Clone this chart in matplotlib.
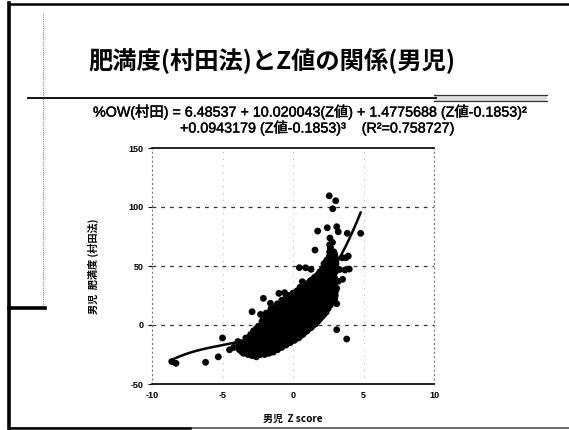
import matplotlib
matplotlib.use("Agg")
import matplotlib.pyplot as plt
import matplotlib.patheffects as pe
import numpy as np

# ---------------- data ----------------
title = "肥満度(村田法)とZ値の関係(男児)"
eq_line1 = "%OW(村田) = 6.48537 + 10.020043(Z値) + 1.4775688 (Z値-0.1853)²"
eq_line2 = "+0.0943179 (Z値-0.1853)³    (R²=0.758727)"
xlabel = "男児  Z score"
ylabel = "男児  肥満度 (村田法)"

x_ticks = [-10, -5, 0, 5, 10]
y_ticks = [-50, 0, 50, 100, 150]

# regression coefficients printed on the slide
fit_coef = [6.48537, 10.020043, 1.4775688, 0.0943179]
fit_center = 0.1853
fit_range = [-8.7, 4.8]

# dense cloud of points (Z score, %OW)
cloud_z = [-3.8, -3.7, -3.9, -3.6,
           -3.5, -3.4, -3.5, -3.3,
           -3.2, -3.1, -3.2, -3.1, -3.0,
           -2.9, -2.8, -2.9, -2.8, -2.9, -2.7,
           -2.6, -2.5, -2.6, -2.5, -2.6, -2.5, -2.6,
           -2.3, -2.2, -2.3, -2.2, -2.3, -2.2, -2.3, -2.2,
           -2.0, -1.9, -2.0, -1.9, -2.0, -1.9, -2.0, -1.9, -2.0,
           -1.7, -1.6, -1.7, -1.6, -1.7, -1.6, -1.7, -1.6, -1.7, -1.6,
           -1.4, -1.3, -1.4, -1.3, -1.4, -1.3, -1.4, -1.3, -1.4, -1.3,
           -1.1, -1.0, -1.1, -1.0, -1.1, -1.0, -1.1, -1.0, -1.1, -1.0, -1.1,
           -0.8, -0.7, -0.8, -0.7, -0.8, -0.7, -0.8, -0.7, -0.8, -0.7, -0.8,
           -0.5, -0.4, -0.5, -0.4, -0.5, -0.4, -0.5, -0.4, -0.5, -0.4, -0.5,
           -0.2, -0.1, -0.2, -0.1, -0.2, -0.1, -0.2, -0.1, -0.2, -0.1, -0.2,
           0.1, 0.2, 0.1, 0.2, 0.1, 0.2, 0.1, 0.2, 0.1, 0.2, 0.1,
           0.4, 0.5, 0.4, 0.5, 0.4, 0.5, 0.4, 0.5, 0.4, 0.5, 0.4, 0.5,
           0.7, 0.8, 0.7, 0.8, 0.7, 0.8, 0.7, 0.8, 0.7, 0.8, 0.7,
           1.0, 1.1, 1.0, 1.1, 1.0, 1.1, 1.0, 1.1, 1.0, 1.1, 1.0,
           1.3, 1.4, 1.3, 1.4, 1.3, 1.4, 1.3, 1.4, 1.3, 1.4, 1.3,
           1.6, 1.7, 1.6, 1.7, 1.6, 1.7, 1.6, 1.7, 1.6, 1.7, 1.6,
           1.9, 2.0, 1.9, 2.0, 1.9, 2.0, 1.9, 2.0, 1.9, 2.0, 1.9,
           2.2, 2.3, 2.2, 2.3, 2.2, 2.3, 2.2, 2.3, 2.2, 2.3, 2.2,
           2.5, 2.6, 2.5, 2.6, 2.5, 2.6, 2.5, 2.6, 2.5, 2.6, 2.6,
           2.8, 2.9, 2.8, 2.9, 2.8, 2.9, 2.8, 2.9, 2.8,
           3.1, 3.0, 3.1, 3.2, 3.0]
cloud_ow = [-21, -17, -14, -23,
            -24, -20, -16, -12,
            -25, -21, -17, -13, -9,
            -26, -22, -18, -14, -10, -6,
            -27, -23, -19, -15, -11, -7, -3,
            -25, -21, -17, -13, -9, -5, -1, 3,
            -25, -21, -17, -13, -9, -5, -1, 4, 8,
            -24, -20, -16, -12, -8, -4, 0, 4, 8, 12,
            -23, -19, -15, -11, -7, -3, 1, 5, 9, 13,
            -21, -17, -13, -9, -5, -1, 3, 7, 11, 15, 18,
            -19, -15, -11, -7, -3, 1, 5, 9, 13, 17, 21,
            -17, -13, -9, -5, -1, 3, 7, 11, 15, 19, 23,
            -15, -11, -7, -3, 1, 5, 9, 13, 17, 21, 25,
            -13, -9, -5, -1, 3, 7, 11, 15, 19, 23, 27,
            -11, -7, -3, 1, 5, 9, 13, 17, 21, 25, 29, 32,
            -8, -4, 0, 4, 8, 12, 16, 20, 24, 28, 32,
            -5, -1, 3, 7, 11, 15, 19, 23, 27, 31, 35,
            -2, 2, 6, 10, 14, 18, 22, 26, 30, 34, 38,
            1, 5, 9, 13, 17, 21, 25, 29, 33, 37, 41,
            5, 9, 13, 17, 21, 25, 29, 33, 37, 41, 45,
            9, 13, 17, 21, 25, 29, 33, 37, 42, 47, 52,
            14, 19, 24, 29, 34, 39, 44, 50, 56, 62, 68,
            20, 26, 32, 38, 44, 50, 56, 62, 70,
            18, 25, 31, 37, 45]

# more points filling the cloud between the ones above
cloud2_z = [-3.65, -3.6, -3.7,
            -3.35, -3.3, -3.4, -3.35,
            -3.05, -3.0, -3.1, -3.05, -3.0,
            -2.75, -2.7, -2.8, -2.75, -2.7, -2.8,
            -2.45, -2.4, -2.5, -2.45, -2.4, -2.5, -2.45,
            -2.15, -2.1, -2.2, -2.15, -2.1, -2.2, -2.15, -2.1,
            -1.85, -1.8, -1.9, -1.85, -1.8, -1.9, -1.85, -1.8, -1.9,
            -1.55, -1.5, -1.6, -1.55, -1.5, -1.6, -1.55, -1.5, -1.6, -1.55,
            -1.25, -1.2, -1.3, -1.25, -1.2, -1.3, -1.25, -1.2, -1.3, -1.25,
            -0.95, -0.9, -1.0, -0.95, -0.9, -1.0, -0.95, -0.9, -1.0, -0.95,
            -0.65, -0.6, -0.7, -0.65, -0.6, -0.7, -0.65, -0.6, -0.7, -0.65,
            -0.35, -0.3, -0.4, -0.35, -0.3, -0.4, -0.35, -0.3, -0.4, -0.35, -0.3,
            -0.05, 0.0, -0.1, -0.05, 0.0, -0.1, -0.05, 0.0, -0.1, -0.05, 0.0,
            0.25, 0.3, 0.2, 0.25, 0.3, 0.2, 0.25, 0.3, 0.2, 0.25, 0.3,
            0.55, 0.6, 0.5, 0.55, 0.6, 0.5, 0.55, 0.6, 0.5, 0.55, 0.6,
            0.85, 0.9, 0.8, 0.85, 0.9, 0.8, 0.85, 0.9, 0.8, 0.85, 0.9,
            1.15, 1.2, 1.1, 1.15, 1.2, 1.1, 1.15, 1.2, 1.1, 1.15, 1.2,
            1.45, 1.5, 1.4, 1.45, 1.5, 1.4, 1.45, 1.5, 1.4, 1.45, 1.5,
            1.75, 1.8, 1.7, 1.75, 1.8, 1.7, 1.75, 1.8, 1.7, 1.75, 1.8,
            2.05, 2.1, 2.0, 2.05, 2.1, 2.0, 2.05, 2.1, 2.0, 2.05, 2.1,
            2.35, 2.4, 2.3, 2.35, 2.4, 2.3, 2.35, 2.4, 2.3, 2.35, 2.4,
            2.65, 2.7, 2.6, 2.65, 2.7, 2.6, 2.65, 2.7, 2.6, 2.65,
            2.95, 3.0, 2.9, 2.95, 3.0, 2.9, 2.95]
cloud2_ow = [-22, -18, -15,
             -23, -19, -15, -11,
             -24, -20, -16, -12, -8,
             -25, -21, -17, -13, -9, -5,
             -25, -21, -17, -13, -9, -5, -1,
             -24, -20, -16, -12, -8, -4, 0, 5,
             -23, -19, -15, -11, -7, -3, 2, 6, 10,
             -22, -18, -14, -10, -6, -2, 2, 6, 10, 14,
             -21, -17, -13, -9, -5, -1, 3, 7, 11, 15,
             -19, -15, -11, -7, -3, 1, 5, 9, 13, 17,
             -17, -13, -9, -5, -1, 3, 7, 11, 15, 19,
             -15, -11, -7, -3, 1, 5, 9, 13, 17, 21, 25,
             -13, -9, -5, -1, 3, 7, 11, 15, 19, 23, 27,
             -11, -7, -3, 1, 5, 9, 13, 17, 21, 25, 29,
             -9, -5, -1, 3, 7, 11, 15, 19, 23, 27, 31,
             -6, -2, 2, 6, 10, 14, 18, 22, 26, 30, 34,
             -3, 1, 5, 9, 13, 17, 21, 25, 29, 33, 37,
             0, 4, 8, 12, 16, 20, 24, 28, 32, 36, 40,
             3, 7, 11, 15, 19, 23, 27, 31, 35, 39, 43,
             7, 11, 15, 19, 23, 27, 31, 35, 39, 43, 48,
             11, 15, 19, 23, 27, 31, 35, 39, 44, 49, 55,
             17, 22, 27, 32, 37, 42, 47, 53, 59, 65,
             22, 28, 34, 40, 47, 54, 60]

# isolated points
outlier_z = [-8.6, -8.3, -6.2, -5.3, -5.0, -4.5, -4.2, -3.9, -3.3,
             -2.9, -2.8, -2.3, -2.1, -1.6, -1.0, -0.6, 0.66, 0.45,
             0.9, 1.28, 1.56, 1.75, 2.43, 3.10, 3.21, 2.57, 3.03,
             2.82, 3.85, 4.80, 3.92, 3.69, 3.99, 3.52, 3.1, 3.81,
             2.62, 2.65, 3.0, 3.05, 3.3, 3.5, 3.75, 2.4, 2.86]
outlier_ow = [-31, -32.5, -31.6, -27, -11, -21, -19, -18.4, -19.8,
              11.3, -25.4, 9, 22.6, 18.4, 26.8, 27.4, 36.7, 48.6,
              48.5, 47.2, 63.5, 79.6, 82.4, 83.3, 79.0, 109.5, 105.3,
              98.5, 77.7, 77.7, 58.4, 46.6, 47.4, 38.7, -4, -11.9,
              73.7, 66, 57.6, 52, 47, 57, 57, 54, 43.8]

# ---------------- figure ----------------
W, H = 569, 430
fig = plt.figure(figsize=(W / 100, H / 100), dpi=100)
fig.patch.set_facecolor("white")

# slide decorations in pixel coordinates
deco = fig.add_axes([0, 0, 1, 1])
deco.set_xlim(0, W)
deco.set_ylim(H, 0)
deco.axis("off")
deco.plot([9, 569], [4, 4], color="black", lw=1.8)
deco.plot([9, 9], [3, 428], color="black", lw=2.6)
deco.plot([9, 569], [427.5, 427.5], color="#555555", lw=1.2)
deco.plot([9, 190], [427.5, 427.5], color="black", lw=1.8)
deco.plot([43, 43], [14, 308], color="#888888", lw=0.8, ls=(0, (1, 1)))
deco.plot([9, 45], [308, 308], color="black", lw=2.6)
deco.plot([28, 436], [97.5, 97.5], color="black", lw=1.3)
deco.fill_between([434, 547], [95, 95], [101, 101], color="#dddddd", lw=0)
deco.plot([434, 547], [95, 95], color="#333333", lw=0.9)
deco.plot([434, 547], [101, 101], color="#333333", lw=0.9)

cjk = ["Noto Sans CJK JP", "DejaVu Sans"]
eqfont = ["Liberation Sans", "Noto Sans CJK JP"]
thick = [pe.withStroke(linewidth=0.3, foreground="black")]

fig.text(272 / W, 1 - 60 / H, title, ha="center", va="center",
         fontsize=17.5, fontweight="bold", family=cjk)
fig.text(93 / W, 1 - 112 / H, eq_line1, ha="left", va="center",
         fontsize=10.3, family=eqfont, path_effects=thick)
fig.text(180 / W, 1 - 128 / H, eq_line2, ha="left", va="center",
         fontsize=10.3, family=eqfont, path_effects=thick)

# main plot
ax = fig.add_axes([152 / W, 1 - 384 / H, 282 / W, 236 / H])
ax.set_xlim(-10, 10)
ax.set_ylim(-50, 150)

for g in [0, 50, 100]:
    ax.axhline(g, color="#333333", lw=0.9, ls=(0, (3, 4)), zorder=1)
for g in [-5, 0, 5]:
    ax.axvline(g, color="#aaaaaa", lw=0.7, ls=(0, (1, 6)), zorder=1)

ms = 24
ax.scatter(cloud_z, cloud_ow, s=ms, color="black", edgecolors="none", zorder=3)
ax.scatter(cloud2_z, cloud2_ow, s=ms, color="black", edgecolors="none", zorder=3)
ax.scatter(outlier_z, outlier_ow, s=ms, color="black", edgecolors="none", zorder=3)

zz = np.linspace(fit_range[0], fit_range[1], 200)
fit = (fit_coef[0] + fit_coef[1] * zz + fit_coef[2] * (zz - fit_center) ** 2
       + fit_coef[3] * (zz - fit_center) ** 3)
ax.plot(zz, fit, color="black", lw=1.8, zorder=4)

for side in ["top", "bottom"]:
    ax.spines[side].set_linewidth(1.2)
    ax.spines[side].set_color("black")
for side in ["left", "right"]:
    ax.spines[side].set_linewidth(0.8)
    ax.spines[side].set_color("#777777")
    ax.spines[side].set_linestyle((0, (1, 3)))

ax.set_xticks(x_ticks)
ax.set_yticks(y_ticks)
ax.set_xticklabels([str(t) for t in x_ticks])
ax.set_yticklabels([str(t) for t in y_ticks])
ax.tick_params(axis="x", length=0, pad=5, labelsize=6.5)
ax.tick_params(axis="y", length=3, width=0.8, pad=3, labelsize=6.5)
for lab in ax.get_xticklabels() + ax.get_yticklabels():
    lab.set_fontfamily("Liberation Sans")
    lab.set_fontweight("bold")

ax.set_xlabel(xlabel, fontsize=7.2, fontweight="bold", family=cjk)
ax.xaxis.set_label_coords(0.5, -0.125)
ax.set_ylabel(ylabel, fontsize=7.3, fontweight="bold", family=cjk)
ax.yaxis.set_label_coords(-0.188, 0.5)

fig.savefig("out.png", dpi=100)
